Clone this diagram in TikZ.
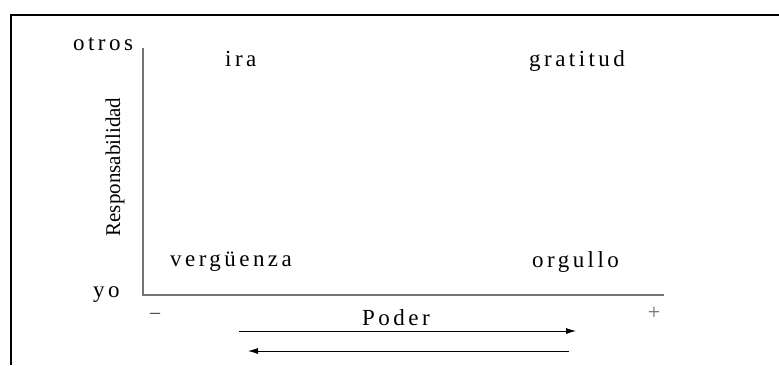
\documentclass[tikz,border=0pt]{standalone}
\usepackage{fontspec}
\setmainfont{Liberation Serif}
\newfontfamily\spacedfont[LetterSpace=15]{Liberation Serif}
\usetikzlibrary{arrows.meta}
\tikzset{
  emo/.style={anchor=base west, inner sep=0pt, font=\fontsize{23}{26}\selectfont\spacedfont},
  axisline/.style={draw=black!55, line width=1.3pt},
  powarrow/.style={line width=0.8pt, -{Latex[length=10pt,width=6pt]}}
}
\begin{document}
\begin{tikzpicture}[x=1pt,y=-1pt]
\useasboundingbox (0,0) rectangle (779,365);
\draw[line width=2.2pt] (11,365) -- (11,15) -- (779,15);
% axes
\coordinate (O) at (143,295);
\coordinate (ytop) at (143,48);
\coordinate (xend) at (664,295);
\draw[axisline] (ytop) -- (O) -- (xend);
\node[emo] (otros) at (73,50) {otros};
\node[emo] (yo) at (93,297) {yo};
\node[inner sep=0pt, rotate=90, font=\fontsize{21}{24}\selectfont] (resp) at (115,167) {Responsabilidad};
\node[inner sep=0pt, font=\fontsize{20}{24}\selectfont, text=black!80] (minus) at (155,316) {–};
\node[inner sep=0pt, font=\fontsize{22}{24}\selectfont, text=black!60] (plus) at (654,313) {+};
% emotions
\node[emo] (ira) at (225,66) {ira};
\node[emo] (gratitud) at (529,66) {gratitud};
\node[emo] (verguenza) at (170,266) {vergüenza};
\node[emo] (orgullo) at (532,267) {orgullo};
% power arrows
\node[emo] (poder) at (362,325) {Poder};
\coordinate (a1) at (239,331);
\coordinate (a2) at (576,331);
\coordinate (b1) at (569,351);
\coordinate (b2) at (248,351);
\draw[powarrow] (a1) -- (a2);
\draw[powarrow] (b1) -- (b2);
\end{tikzpicture}
\end{document}
